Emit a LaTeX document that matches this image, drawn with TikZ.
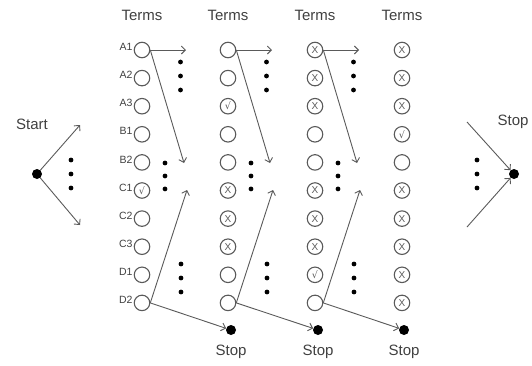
\documentclass[tikz,border=0pt]{standalone}
\usepackage{fontspec}
\setmainfont{Liberation Sans}
\newfontfamily\symfont{DejaVu Sans}
\usetikzlibrary{arrows.meta}
\definecolor{ink}{HTML}{5A5A5A}
\definecolor{txt}{HTML}{404040}
% contents of a term circle
\newcommand\markO{}
\newcommand\markX{{\fontsize{10}{10}\selectfont X}}
\newcommand\markV{{\symfont\fontsize{9.5}{10}\selectfont √}}
\begin{document}
\begin{tikzpicture}[x=1pt,y=-1pt,
  term/.style={circle,draw=ink,line width=1.1pt,minimum size=15.5pt,inner sep=0pt,text=ink},
  dot/.style={circle,fill=black,inner sep=0pt,minimum size=4.8pt},
  endpt/.style={circle,fill=black,inner sep=0pt,minimum size=10pt},
  link/.style={draw=ink,line width=0.9pt,-{Straight Barb[length=4pt,width=8pt]}},
  head/.style={font=\fontsize{15}{15}\selectfont,text=txt},
  rowlab/.style={font=\fontsize{10.5}{11}\selectfont,text=txt,anchor=east,inner sep=1pt}]
\useasboundingbox (0,0) rectangle (532,365);

% columns of terms
\foreach \c/\cx/\marks in {1/142/{O,O,O,O,O,V,O,O,O,O},
                           2/228/{O,O,V,O,O,X,X,X,O,O},
                           3/315/{X,X,X,O,O,X,X,X,V,O},
                           4/402/{X,X,X,V,O,X,X,X,X,X}}{
  \node[head] (h\c) at (\cx,15) {Terms};
  \foreach \m [count=\r from 0] in \marks {
    \pgfmathsetmacro\yy{50+28.1*\r}
    \node[term] (c\c-\r) at (\cx,\yy) {\csname mark\m\endcsname};
  }
}

% row labels
\foreach \t [count=\r from 0] in {A1,A2,A3,B1,B2,C1,C2,C3,D1,D2}
  \node[rowlab] (l\r) at ([yshift=3pt]c1-\r.west) {\t};

% stop points below the columns
\foreach \s/\sx in {1/231,2/318,3/404}{
  \node[endpt] (s\s) at (\sx,330) {};
  \node[head] (st\s) at (\sx,352) {Stop};
}

% transitions leaving each column
\foreach \c/\cx in {1/142,2/228,3/315}{
  \coordinate (ah\c) at (\cx+44,50);
  \coordinate (ad\c) at (\cx+42,163);
  \coordinate (au\c) at (\cx+45,190);
  \draw[link] (c\c-0.east) -- (ah\c);
  \draw[link] (c\c-0.east) -- (ad\c);
  \draw[link] (c\c-9.east) -- (au\c);
  \draw[link] (c\c-9.east) -- (s\c);
  \foreach \k [count=\j] in {0,14,28}{
    \node[dot] (da\c-\j) at (\cx+38.5,62+\k) {};
    \node[dot] (db\c-\j) at (\cx+23,163+\k/1.08) {};
    \node[dot] (dc\c-\j) at (\cx+39,264+\k) {};
  }
}

% start
\node[endpt] (start) at (37,174) {};
\node[head] (startlab) at (32,124) {Start};
\coordinate (su) at (80,125);
\coordinate (sd) at (80,225);
\draw[link] (start) -- (su);
\draw[link] (start) -- (sd);
\foreach \k [count=\j] in {0,14,28}
  \node[dot] (ds\j) at (71,160+\k) {};

% final stop
\node[endpt] (final) at (514,174) {};
\node[head] (finallab) at (513,122) {Stop};
\coordinate (fu) at (467,122);
\coordinate (fd) at (467,227);
\draw[link] (fu) -- (final);
\draw[link] (fd) -- (final);
\foreach \k [count=\j] in {0,14,28}
  \node[dot] (df\j) at (477,160+\k) {};
\end{tikzpicture}
\end{document}
